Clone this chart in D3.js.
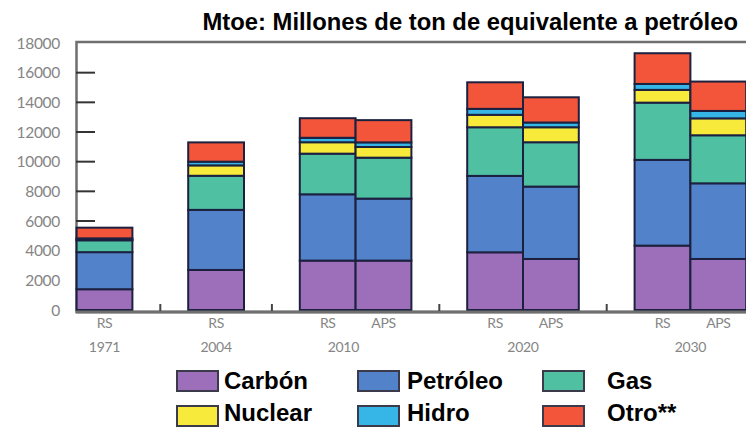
<!DOCTYPE html>
<html>
<head>
<meta charset="utf-8">
<script src="https://cdn.jsdelivr.net/npm/d3@7"></script>
<style>
  html, body { margin: 0; padding: 0; background: #fff; }
  svg { display: block; }
</style>
</head>
<body>
<svg id="chart" width="746" height="428"></svg>
<script>
// World primary energy demand by fuel (Mtoe), reference (RS) and alternative (APS) scenarios
const bars      = ["1971 RS", "2004 RS", "2010 RS", "2010 APS", "2020 RS", "2020 APS", "2030 RS", "2030 APS"];
const scenarios = ["RS", "RS", "RS", "APS", "RS", "APS", "RS", "APS"];
const years     = ["1971", "2004", "2010", "2020", "2030"];
const fuels     = ["Carbón", "Petróleo", "Gas", "Nuclear", "Hidro", "Otro**"];

const carbon   = [1400, 2700, 3330, 3330, 3890, 3440, 4340, 3440];
const petroleo = [2500, 4050, 4470, 4180, 5150, 4880, 5780, 5100];
const gas      = [ 800, 2300, 2740, 2760, 3280, 2990, 3860, 3240];
const nuclear  = [  30,  700,  770,  720,  840, 1010,  860, 1140];
const hidro    = [ 100,  250,  300,  310,  400,  320,  400,  500];
const otro     = [ 720, 1300, 1320, 1500, 1790, 1700, 2070, 1980];

const yTicks = [0, 2000, 4000, 6000, 8000, 10000, 12000, 14000, 16000, 18000];

// slot index of each bar along the x axis (gaps separate the years)
const barSlot  = [0, 2, 4, 5, 7, 8, 10, 11];
const yearSlot = [0, 2, 4.28, 7.5, 10.5];
const gapSlot  = [1, 3, 6, 9];

const colors = ["#9d6fbb", "#5282c9", "#50c0a2", "#f7ea3a", "#36b6e6", "#f2553a"];

const svg = d3.select("#chart");

const x = d3.scaleBand().domain(d3.range(12)).range([76.6, 746.2]).paddingInner(0).paddingOuter(0);
const xc = s => x(Math.floor(s)) + x.bandwidth() * (0.5 + (s - Math.floor(s)));
const y = d3.scaleLinear().domain([0, 18000]).range([310, 43]);
const color = d3.scaleOrdinal().domain(fuels).range(colors);

const table = bars.map((b, i) => ({
  bar: b, slot: barSlot[i],
  "Carbón": carbon[i], "Petróleo": petroleo[i], "Gas": gas[i],
  "Nuclear": nuclear[i], "Hidro": hidro[i], "Otro**": otro[i]
}));
const series = d3.stack().keys(fuels)(table);

// title
svg.append("text")
  .attr("x", 738).attr("y", 30)
  .attr("text-anchor", "end")
  .attr("font-family", "Liberation Sans, Arial, sans-serif")
  .attr("font-weight", "bold")
  .attr("font-size", 23.8)
  .attr("fill", "#000")
  .text("Mtoe: Millones de ton de equivalente a petróleo");

// plot frame
svg.append("rect")
  .attr("x", 76.5).attr("y", 42)
  .attr("width", 700).attr("height", 270)
  .attr("fill", "none").attr("stroke", "#6f6f6f").attr("stroke-width", 2.5);

// inner y tick marks
svg.append("g").selectAll("line")
  .data(yTicks.filter(t => t > 0 && t < 18000))
  .join("line")
  .attr("x1", 76).attr("x2", 95)
  .attr("y1", d => y(d)).attr("y2", d => y(d))
  .attr("stroke", "#333").attr("stroke-width", 2);

// y tick labels
svg.append("g").selectAll("text")
  .data(yTicks)
  .join("text")
  .attr("x", 60).attr("y", d => y(d) + 5.5)
  .attr("text-anchor", "end")
  .attr("font-family", "Lato, sans-serif")
  .attr("font-size", 15.5)
  .attr("letter-spacing", -0.3)
  .attr("fill", "#858585")
  .text(d => d);

// stacked bars
svg.append("g").selectAll("g")
  .data(series)
  .join("g")
  .attr("fill", d => color(d.key))
  .selectAll("rect")
  .data(d => d)
  .join("rect")
  .attr("x", d => x(d.data.slot))
  .attr("width", x.bandwidth())
  .attr("y", d => y(d[1]))
  .attr("height", d => y(d[0]) - y(d[1]))
  .attr("stroke", "#1d2140").attr("stroke-width", 2);

// bottom axis line and small separators between years
svg.append("line")
  .attr("x1", 76).attr("x2", 746).attr("y1", 312).attr("y2", 312)
  .attr("stroke", "#6f6f6f").attr("stroke-width", 3);
svg.append("g").selectAll("line")
  .data(gapSlot)
  .join("line")
  .attr("x1", d => xc(d)).attr("x2", d => xc(d))
  .attr("y1", 304).attr("y2", 311)
  .attr("stroke", "#444").attr("stroke-width", 2);

// scenario and year labels
svg.append("g").selectAll("text")
  .data(scenarios)
  .join("text")
  .attr("x", (d, i) => xc(barSlot[i])).attr("y", 328)
  .attr("text-anchor", "middle")
  .attr("font-family", "Lato, sans-serif")
  .attr("font-size", 14).attr("letter-spacing", -0.4)
  .attr("fill", "#858585")
  .text(d => d);
svg.append("g").selectAll("text")
  .data(years)
  .join("text")
  .attr("x", (d, i) => xc(yearSlot[i])).attr("y", 352)
  .attr("text-anchor", "middle")
  .attr("font-family", "Lato, sans-serif")
  .attr("font-size", 14).attr("letter-spacing", -0.3)
  .attr("fill", "#858585")
  .text(d => d);

// legend: two rows of three
const legX = [177, 358, 543];
const legTextX = [224, 407, 607];
const legY = [371, 406];
const leg = svg.append("g").selectAll("g")
  .data(fuels)
  .join("g");
leg.append("rect")
  .attr("x", (d, i) => legX[i % 3])
  .attr("y", (d, i) => legY[Math.floor(i / 3)])
  .attr("width", 41).attr("height", 20)
  .attr("fill", d => color(d))
  .attr("stroke", "#3a3a4a").attr("stroke-width", 2);
leg.append("text")
  .attr("x", (d, i) => legTextX[i % 3])
  .attr("y", (d, i) => legY[Math.floor(i / 3)] + (i < 3 ? 18 : 15))
  .attr("font-family", "Liberation Sans, Arial, sans-serif")
  .attr("font-weight", "bold")
  .attr("font-size", 24)
  .attr("fill", "#000")
  .text(d => d);
</script>
</body>
</html>
